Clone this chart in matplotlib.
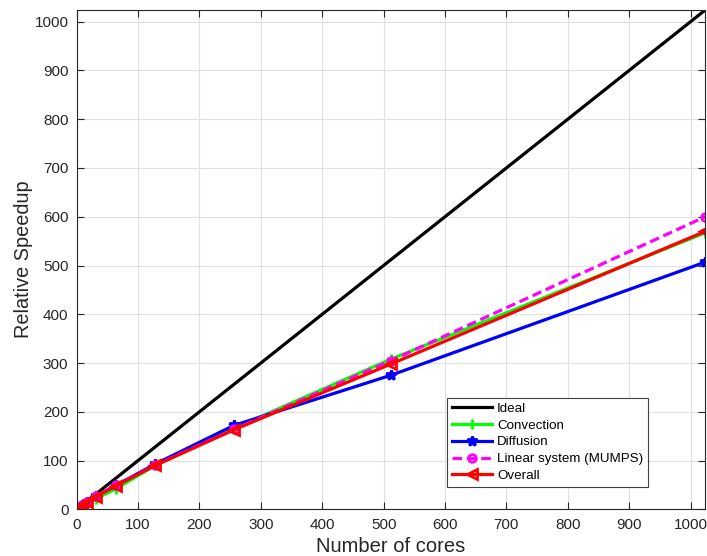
import matplotlib
matplotlib.use("Agg")
import matplotlib.pyplot as plt
import numpy as np

plt.rcParams['font.family'] = ['Liberation Sans', 'DejaVu Sans']

cores = [1, 2, 4, 8, 16, 32, 64, 128, 256, 512, 1024]
ideal = [1, 2, 4, 8, 16, 32, 64, 128, 256, 512, 1024]
convection = [1, 2, 3.9, 7.5, 13, 22, 42, 90, 166, 308, 567]
diffusion = [1, 2, 4, 7.8, 14.5, 27, 49, 93, 172, 275, 507]
mumps = [1, 2, 4, 8, 15, 28, 49, 91, 164, 305, 600]
overall = [1, 2, 4, 7.9, 14.5, 26, 48, 90, 163, 298, 570]

xticks = [0, 100, 200, 300, 400, 500, 600, 700, 800, 900, 1000]
yticks = [0, 100, 200, 300, 400, 500, 600, 700, 800, 900, 1000]

fig = plt.figure(figsize=(7.07, 5.56), dpi=100)
ax = fig.add_axes([0.1085, 0.084, 0.889, 0.898])

lw = 2.3
ax.plot(cores, ideal, color='black', lw=lw, label='Ideal')
ax.plot(cores, convection, color='#00ff00', lw=lw, marker='+', ms=7, mew=2, label='Convection')
ax.plot(cores, diffusion, color='blue', lw=lw, marker='*', ms=7, mew=2, label='Diffusion')
ax.plot(cores, mumps, color='magenta', lw=lw, ls=(0, (3, 1.5)), marker='o', ms=5.5, mew=2,
        mfc='none', label='Linear system (MUMPS)')
ax.plot(cores, overall, color='red', lw=lw, marker='<', ms=6.5, mew=2, mfc='none', label='Overall')

ax.set_xlim(0, 1024)
ax.set_ylim(0, 1024)
ax.set_xticks(xticks)
ax.set_yticks(yticks)
ax.grid(True, color='#e0e0e0', lw=0.8)
ax.set_axisbelow(True)
ax.tick_params(direction='in', top=True, right=True, labelsize=11, colors='#262626',
               length=5, pad=6)
for s in ax.spines.values():
    s.set_color('#262626')
    s.set_linewidth(0.8)

ax.set_xlabel('Number of cores', fontsize=14.5, color='#262626', labelpad=4)
ax.set_ylabel('Relative Speedup', fontsize=14.3, color='#262626', labelpad=1)

leg = ax.legend(loc='upper left', bbox_to_anchor=(447/707, 1 - 398/556),
                bbox_transform=fig.transFigure, fontsize=9.6, fancybox=False,
                framealpha=1, edgecolor='#404040', handlelength=3.0,
                borderpad=0.35, labelspacing=0.33, handletextpad=0.4, borderaxespad=0)
leg.get_frame().set_linewidth(0.8)

fig.savefig('out.png', dpi=100)
